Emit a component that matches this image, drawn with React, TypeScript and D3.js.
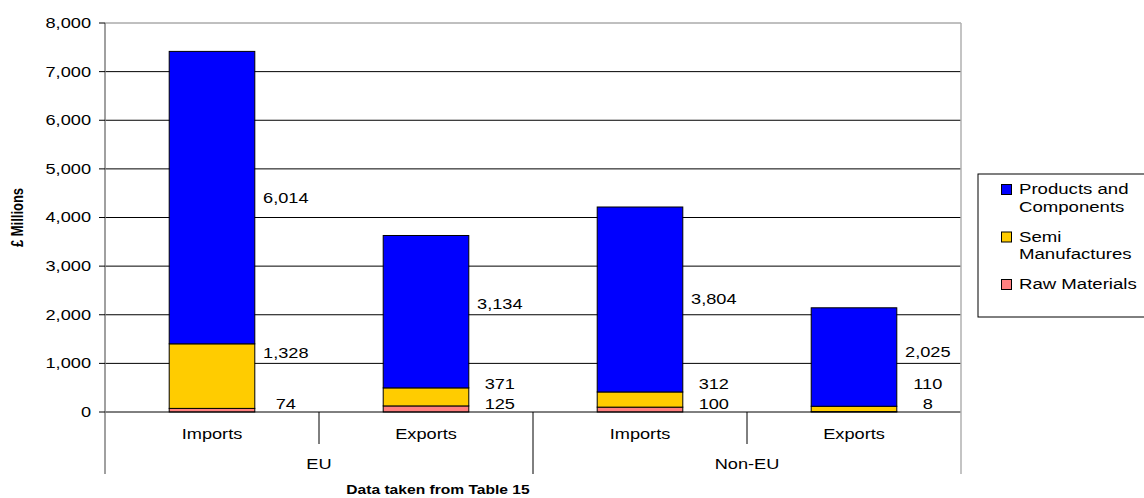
import React from "react";
import * as d3 from "d3";

// data (£ millions)
const categories = ["Imports", "Exports", "Imports", "Exports"];
const groups = ["EU", "Non-EU"];
const rawMaterials = [74, 125, 100, 8];
const semiManufactures = [1328, 371, 312, 110];
const productsComponents = [6014, 3134, 3804, 2025];
const yTicks = [0, 1000, 2000, 3000, 4000, 5000, 6000, 7000, 8000];

const series = [
  { key: "raw", label: ["Raw Materials"], color: "#FF8080", values: rawMaterials },
  { key: "semi", label: ["Semi", "Manufactures"], color: "#FFCC00", values: semiManufactures },
  { key: "prod", label: ["Products and", "Components"], color: "#0000FF", values: productsComponents },
];

const W = 1144;
const H = 498;
const FONT = "'Liberation Sans', Arial, sans-serif";
const SX = 1.3; // the original picture is stretched sideways

const left = 105;
const right = 961;
const top = 23;
const zeroY = 412;
const catBottom = 444;
const groupBottom = 474;

function T({ x, y, children, anchor = "middle", size = 14, bold = false, rotate = 0, sx = SX }: any) {
  return (
    <text
      transform={`translate(${x},${y}) scale(${sx},1)${rotate ? ` rotate(${rotate})` : ""}`}
      textAnchor={anchor}
      dy="0.35em"
      fontFamily={FONT}
      fontSize={size}
      fontWeight={bold ? "bold" : "normal"}
      fill="#000"
    >
      {children}
    </text>
  );
}

export default function App() {
  const idx = categories.map((_, i) => i);
  const x = d3.scaleBand<number>().domain(idx).range([left, right]).paddingInner(0.6).paddingOuter(0.3);
  const y = d3.scaleLinear().domain([0, 8000]).range([zeroY, top]);

  const table = idx.map((i) => ({ i, raw: rawMaterials[i], semi: semiManufactures[i], prod: productsComponents[i] }));
  const stacked = d3.stack<any>().keys(series.map((s) => s.key))(table);

  // value labels: centred on their segment, pushed up so they don't collide
  // with each other or sit on a gridline
  const gridYs = yTicks.slice(1).map((t) => y(t));
  const labels: { x: number; y: number; text: string }[] = [];
  idx.forEach((i) => {
    let prev = zeroY + 12;
    stacked.forEach((layer, li) => {
      const [a, b] = layer[i];
      let cy = Math.min(y((a + b) / 2), prev - 20);
      if (li === 1) cy = Math.min(cy, y(b) + 9);
      const hit = gridYs.find((g) => Math.abs(g - cy) < 7.5);
      if (hit !== undefined && li === stacked.length - 1) cy = hit - 11;
      prev = cy;
      labels.push({ x: x(i)! + x.bandwidth() + 31, y: cy, text: d3.format(",")(b - a) });
    });
  });

  const step = x.step();
  const fmt = d3.format(",");

  return (
    <svg width={W} height={H} style={{ position: "absolute", left: 0, top: 0, background: "#fff" }}>
      {/* gridlines */}
      {yTicks.slice(1).map((t) => (
        <line key={t} x1={left} x2={right} y1={y(t)} y2={y(t)} stroke={t === 8000 ? "#808080" : "#000"} strokeWidth={1} />
      ))}

      {/* bars */}
      {stacked.map((layer, li) => (
        <g key={series[li].key}>
          {layer.map((d, i) => (
            <rect
              key={i}
              x={x(i)}
              width={x.bandwidth()}
              y={y(d[1])}
              height={y(d[0]) - y(d[1])}
              fill={series[li].color}
              stroke="#000"
              strokeWidth={1}
            />
          ))}
        </g>
      ))}

      {/* axes */}
      <line x1={left} x2={right} y1={zeroY} y2={zeroY} stroke="#000" />
      <line x1={left} x2={left} y1={top} y2={groupBottom} stroke="#808080" strokeWidth={1.5} />
      <line x1={right} x2={right} y1={top} y2={groupBottom} stroke="#b0b0b0" strokeWidth={1.5} />
      {yTicks.map((t) => (
        <g key={t}>
          <line x1={left - 6} x2={left} y1={y(t)} y2={y(t)} stroke="#000" />
          <T x={91} y={y(t)} anchor="end">
            {fmt(t)}
          </T>
        </g>
      ))}

      {/* category axis */}
      {idx.map((i) => (
        <T key={i} x={x(i)! + x.bandwidth() / 2} y={434}>
          {categories[i]}
        </T>
      ))}
      {idx.slice(1).map((i) => {
        const bx = left + step * i;
        return <line key={i} x1={bx} x2={bx} y1={zeroY} y2={i % 2 === 0 ? groupBottom : catBottom} stroke="#000" />;
      })}
      {groups.map((g, gi) => (
        <T key={g} x={left + step * (gi * 2 + 1)} y={464}>
          {g}
        </T>
      ))}

      {/* value labels */}
      {labels.map((l, k) => (
        <T key={k} x={l.x} y={l.y}>
          {l.text}
        </T>
      ))}

      {/* titles */}
      <T x={17} y={(top + zeroY) / 2} size={13} bold rotate={-90}>
        £ Millions
      </T>
      <T x={438} y={490} size={12} bold>
        Data taken from Table 15
      </T>

      {/* legend */}
      <rect x={978} y={174} width={170} height={143} fill="#fff" stroke="#000" />
      {[...series].reverse().map((s, k) => {
        const ly = 189 + k * 47.5;
        return (
          <g key={s.key}>
            <rect x={1001.5} y={ly - 4.5} width={10} height={10} fill={s.color} stroke="#000" />
            {s.label.map((line, j) => (
              <T key={j} x={1019} y={ly + j * 17.5} anchor="start" size={15.5} sx={1.2}>
                {line}
              </T>
            ))}
          </g>
        );
      })}
    </svg>
  );
}
